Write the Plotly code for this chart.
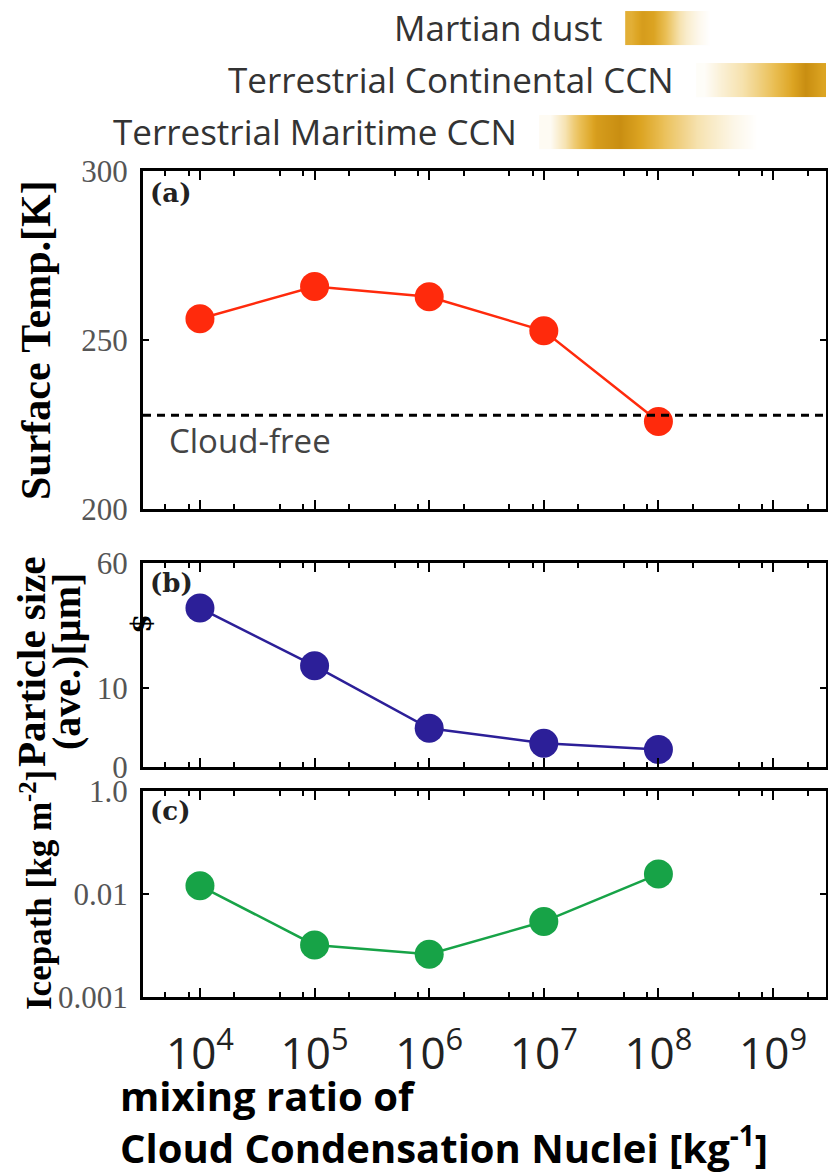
import plotly.graph_objects as go

# ---------------- data ----------------
ccn = [1e4, 1e5, 1e6, 1e7, 1e8]
surface_temp = [256.3, 265.8, 262.8, 252.7, 225.9]   # K
cloud_free_temp = 227.7                              # K
particle_size = [25.6, 12.8, 4.9, 3.0, 2.2]          # micrometre (first value above axis break)
icepath = [0.012, 0.0032, 0.0026, 0.0054, 0.0156]    # kg m-2

x_tickvals = [1e4, 1e5, 1e6, 1e7, 1e8, 1e9]
x_ticktext = ["10<sup>4</sup>", "10<sup>5</sup>", "10<sup>6</sup>",
              "10<sup>7</sup>", "10<sup>8</sup>", "10<sup>9</sup>"]
x_minor = [m * 10 ** e for e in range(3, 10) for m in (2, 5, 8)]

# source ranges (log10 of CCN mixing ratio) and gradient profiles (0..1 darkness)
source_names = ["Martian dust", "Terrestrial Continental CCN", "Terrestrial Maritime CCN"]
source_ranges = [(7.71, 8.49), (8.33, 9.50), (6.96, 8.95)]
source_profiles = [
    [0.72, 0.85, 0.80, 0.62, 0.42, 0.22, 0.08, 0.0],
    [0.03, 0.18, 0.32, 0.45, 0.58, 0.75, 0.95, 0.80],
    [0.05, 0.50, 0.85, 0.95, 0.78, 0.58, 0.42, 0.25, 0.10, 0.0],
]

# broken axis for panel (b): linear up to BREAK, compressed above
B_BREAK = 19.0
B_TOP_DISPLAY = 25.8
B_TOP_VALUE = 60.0


def b_map(v):
    if v <= B_BREAK:
        return v
    return B_BREAK + (v - B_BREAK) * (B_TOP_DISPLAY - B_BREAK) / (B_TOP_VALUE - B_BREAK)


# ---------------- layout helpers ----------------
W, H = 828, 1175
def py(px):
    return 1 - px / H

XDOM = [143 / W, 826 / W]
XRANGE = [3.503, 9.462]

RED = "#ff2a0c"
BLUE = "#2c1f98"
GREEN = "#17a347"

fig = go.Figure()

marker_size = 29
line_w = 2.5

fig.add_trace(go.Scatter(x=ccn, y=surface_temp, mode="lines+markers",
                         line=dict(color=RED, width=line_w),
                         marker=dict(color=RED, size=marker_size),
                         xaxis="x", yaxis="y", showlegend=False, hoverinfo="skip"))
fig.add_trace(go.Scatter(x=ccn, y=[b_map(v) for v in particle_size], mode="lines+markers",
                         line=dict(color=BLUE, width=line_w),
                         marker=dict(color=BLUE, size=marker_size),
                         xaxis="x2", yaxis="y2", showlegend=False, hoverinfo="skip"))
fig.add_trace(go.Scatter(x=ccn, y=icepath, mode="lines+markers",
                         line=dict(color=GREEN, width=line_w),
                         marker=dict(color=GREEN, size=marker_size),
                         xaxis="x3", yaxis="y3", showlegend=False, hoverinfo="skip"))

# gradient bars
gold_scale = [[0.0, "#ffffff"], [0.35, "#f6e2ae"], [0.6, "#eabf55"],
              [0.8, "#dca422"], [1.0, "#c3870c"]]
for k, ((x0, x1), prof) in enumerate(zip(source_ranges, source_profiles)):
    n = len(prof)
    step = (x1 - x0) / n
    xs = [x0 + (i + 0.5) * step for i in range(n)]
    fig.add_trace(go.Heatmap(x=xs, y=[k - 0.163, k + 0.163], z=[prof, prof],
                             zmin=0, zmax=1, colorscale=gold_scale, zsmooth="best",
                             showscale=False, hoverinfo="skip",
                             xaxis="x4", yaxis="y4"))

common_x = dict(type="log", range=XRANGE, domain=XDOM, showline=True, linecolor="black",
                linewidth=3, mirror="allticks", ticks="inside", ticklen=9, tickwidth=2,
                tickcolor="black", tickvals=x_tickvals, showgrid=False, zeroline=False,
                minor=dict(tickvals=x_minor, ticks="inside", ticklen=5, tickwidth=2,
                           tickcolor="black"),
                automargin=False, fixedrange=True)

ytick_font = dict(family="Liberation Serif", size=31, color="#555555")
common_y = dict(showline=True, linecolor="black", linewidth=3, mirror="allticks",
                ticks="inside", ticklen=6, tickwidth=2, tickcolor="black",
                showgrid=False, zeroline=False, tickfont=ytick_font,
                ticklabelstandoff=6, automargin=False, fixedrange=True)

fig.update_layout(
    width=W, height=H, margin=dict(l=0, r=0, t=0, b=0),
    paper_bgcolor="white", plot_bgcolor="white",
    xaxis=dict(**common_x, anchor="y", showticklabels=False),
    yaxis=dict(**common_y, domain=[py(509), py(171)], range=[200, 300],
               tickvals=[200, 250, 300], anchor="x"),
    xaxis2=dict(**common_x, anchor="y2", showticklabels=False),
    yaxis2=dict(**common_y, domain=[py(767), py(563)], range=[0, B_TOP_DISPLAY],
                tickvals=[0, 10, B_TOP_DISPLAY], ticktext=["0", "10", "60"], anchor="x2"),
    xaxis3=dict(**common_x, anchor="y3", showticklabels=True, ticktext=x_ticktext,
                tickfont=dict(family="Open Sans", size=44, color="#222222"),
                ticklabelstandoff=16),
    yaxis3=dict(**common_y, type="log", domain=[py(997), py(791)], range=[-3, -1],
                tickvals=[0.001, 0.01, 0.1], ticktext=["0.001", "0.01", "1.0"], anchor="x3"),
    xaxis4=dict(range=XRANGE, domain=XDOM, visible=False, anchor="y4", fixedrange=True),
    yaxis4=dict(range=[2.5, -0.5], domain=[py(158), py(2)], visible=False, anchor="x4",
                fixedrange=True),
)

# cloud-free reference line
fig.add_shape(type="line", xref="x domain", yref="y", x0=0, x1=1,
              y0=cloud_free_temp, y1=cloud_free_temp,
              line=dict(color="black", width=3, dash="8px,6px"))

ann = []
ann.append(dict(text="Cloud-free", xref="x domain", yref="y", x=0.035, y=cloud_free_temp,
                xanchor="left", yanchor="top", yshift=-1, showarrow=False,
                font=dict(family="Open Sans", size=33, color="#444444")))
for lab, yr in [("(a)", "y"), ("(b)", "y2"), ("(c)", "y3")]:
    ann.append(dict(text="<b>" + lab + "</b>", xref="x domain", yref=yr + " domain",
                    x=0.008, y=0.985, xanchor="left", yanchor="top", showarrow=False,
                    font=dict(family="DejaVu Serif", size=26, color="#222222")))
# axis-break mark
ann.append(dict(text="<b>$</b>", xref="x2 domain", yref="y2", x=0, y=18.2, showarrow=False,
                xanchor="center", yanchor="middle", textangle=90,
                font=dict(family="DejaVu Serif", size=28, color="black")))

# y titles
ytitle_family = "Liberation Serif"
ann.append(dict(text="<b>Surface Temp.[K]</b>", xref="paper", yref="paper",
                x=36 / W, y=py(340), xanchor="center", yanchor="middle",
                textangle=-90, showarrow=False,
                font=dict(family=ytitle_family, size=42, color="black")))
ann.append(dict(text="<b>Particle size</b>", xref="paper", yref="paper",
                x=31 / W, y=py(662), xanchor="center", yanchor="middle",
                textangle=-90, showarrow=False,
                font=dict(family=ytitle_family, size=41, color="black")))
ann.append(dict(text="<b>(ave.)[µm]</b>", xref="paper", yref="paper",
                x=66 / W, y=py(662), xanchor="center", yanchor="middle",
                textangle=-90, showarrow=False,
                font=dict(family=ytitle_family, size=40, color="black")))
ann.append(dict(text="<b>Icepath [kg m<sup>-2</sup>]</b>", xref="paper", yref="paper",
                x=36 / W, y=py(890), xanchor="center", yanchor="middle",
                textangle=-90, showarrow=False,
                font=dict(family=ytitle_family, size=35, color="black")))

# x title
ann.append(dict(text="<b>mixing ratio of</b><br><b>Cloud Condensation Nuclei [kg<sup>-1</sup>]</b>",
                xref="paper", yref="paper", x=118 / W, y=py(1121), xanchor="left",
                yanchor="middle", align="left", showarrow=False,
                font=dict(family="Open Sans", size=40, color="black")))

# source labels
for k, (name, (x0, x1)) in enumerate(zip(source_names, source_ranges)):
    ann.append(dict(text=name, xref="x4", yref="y4", x=x0, y=k, xanchor="right",
                    yanchor="middle", xshift=-20, showarrow=False,
                    font=dict(family="Open Sans", size=35, color="#333333")))

fig.update_layout(annotations=ann)

fig.write_html("out.html")
